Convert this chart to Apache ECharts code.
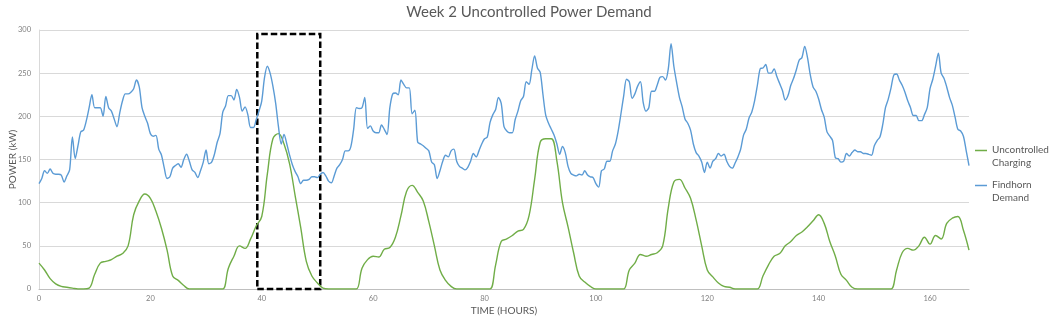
<!DOCTYPE html>
<html>
<head>
<meta charset="utf-8">
<script src="https://cdn.jsdelivr.net/npm/echarts@6/dist/echarts.min.js"></script>
<style>
html,body{margin:0;padding:0;background:#fff;}
#chart{width:1058px;height:325px;}
</style>
</head>
<body>
<div id="chart"></div>
<script>
// Uncontrolled charging, hourly values, hour 0 .. 167
const chargingStepHours = 1;
const chargingKW = [
  30,22,12,6,3,2,1,0,0,1,17,30,32,34,38,41,50,86,102,110,
  105,90,70,45,15,10,4,0,0,0,0,0,0,0,24,38,50,47,58,73,
  84,133,174,180,168,145,108,71,32,15,7,1,0,0,0,0,0,0,24,34,
  38,37,46,48,60,85,113,120,112,102,78,50,22,10,3,0,0,0,0,0,
  0,0,28,55,58,62,67,69,85,127,170,174,174,148,100,72,42,15,8,3,
  0,0,0,0,0,0,22,30,40,38,40,42,50,94,124,127,117,105,80,50,
  22,14,7,3,2,0,0,0,0,0,15,28,38,41,50,55,62,66,72,79,
  86,76,55,38,17,10,2,0,0,0,0,0,0,0,22,42,47,45,50,60,
  52,62,58,76,82,84,68,45
];
// Findhorn demand, half-hourly values, hour 0 .. 167
const demandStepHours = 0.5;
const demandKW = [
  122,128,137,134,139,134,133,133,132,124,
  131,138,176,151,166,182,184,195,210,225,
  210,210,210,200,223,210,206,197,188,204,
  218,226,226,228,232,242,234,210,200,192,
  180,177,178,162,155,140,128,130,140,143,
  145,141,150,156,148,138,135,129,137,147,
  161,145,147,156,170,180,205,212,224,224,
  219,231,222,206,211,202,187,187,196,206,
  218,245,258,250,235,215,188,168,179,168,
  155,144,136,130,122,126,126,127,130,130,
  129,133,135,131,125,123,131,140,144,150,
  160,160,165,185,210,209,210,222,186,189,
  183,181,181,190,185,179,210,226,227,225,
  242,237,233,233,203,207,170,168,166,163,
  160,147,144,128,137,148,155,153,160,162,
  148,142,140,138,141,148,157,153,160,168,
  174,176,193,202,208,222,215,188,183,181,
  181,196,206,218,223,240,237,254,270,256,
  251,225,201,192,185,178,168,156,165,158,
  142,134,132,131,133,132,137,132,130,129,
  122,118,137,139,148,148,160,168,183,203,
  224,243,240,221,226,235,240,216,206,210,
  229,229,236,245,246,242,255,284,258,239,
  222,211,197,192,184,168,158,154,147,135,
  147,140,148,151,157,154,156,148,142,140,
  146,153,162,178,185,198,205,218,236,255,
  256,260,250,250,255,246,238,230,219,224,
  236,244,254,265,268,281,268,248,234,229,
  220,208,199,182,177,172,152,151,147,148,
  157,154,158,161,159,159,157,157,156,155,
  166,172,176,190,210,220,233,248,249,242,
  236,228,218,210,201,201,195,195,202,210,
  232,243,258,273,250,244,234,222,213,199,
  185,183,177,160,143
];
const seriesNames = ['Uncontrolled Charging', 'Findhorn Demand'];
// Highlighted window (hours) and its top (kW)
const highlightHours = [39.2, 50.5];
const highlightKW = [0, 295.5];

const FONT = 'Lato';
const TXT = '#595959';
const chart = echarts.init(document.getElementById('chart'), null, {renderer: 'canvas'});
chart.setOption({
  animation: false,
  backgroundColor: '#ffffff',
  title: {
    text: 'Week 2 Uncontrolled Power Demand',
    left: 'center', top: 0,
    textStyle: {fontFamily: FONT, fontSize: 15, fontWeight: 'normal', color: TXT}
  },
  grid: {left: 39, right: 89, top: 30, bottom: 36, containLabel: false, outerBoundsMode: 'none'},
  legend: {
    orient: 'vertical', left: 975, top: 143, padding: 0,
    itemWidth: 12, itemHeight: 13.5, itemGap: 8,
    icon: 'path://M0,0H12V1.6H0Z M0,13.5H12V13.5H0Z',
    itemStyle: {borderWidth: 0},
    data: seriesNames,
    formatter: n => n.replace(' ', '\n'),
    textStyle: {fontFamily: FONT, fontSize: 10, color: TXT, lineHeight: 13.5}
  },
  xAxis: {
    type: 'value', min: 0, max: 167, interval: 20,
    name: 'TIME (HOURS)', nameLocation: 'middle', nameGap: 17,
    nameMoveOverlap: false,
    nameTextStyle: {fontFamily: FONT, fontSize: 10, color: TXT},
    axisLine: {show: true, lineStyle: {color: '#bfbfbf', width: 1}},
    axisTick: {show: false},
    axisLabel: {fontFamily: FONT, fontSize: 7.5, color: '#7f7f7f', margin: 6, showMaxLabel: false},
    splitLine: {show: false}
  },
  yAxis: {
    type: 'value', min: 0, max: 300, interval: 50,
    name: 'POWER (kW)', nameLocation: 'middle', nameGap: 21,
    nameMoveOverlap: false,
    nameTextStyle: {fontFamily: FONT, fontSize: 10, color: TXT},
    axisLine: {show: true, lineStyle: {color: '#d9d9d9', width: 1}},
    axisTick: {show: false},
    axisLabel: {fontFamily: FONT, fontSize: 7.5, color: '#7f7f7f', margin: 8},
    splitLine: {show: true, lineStyle: {color: '#d9d9d9', width: 1}}
  },
  series: [
    {
      name: seriesNames[0], type: 'line', symbol: 'none', smooth: 0.4,
      data: chargingKW.map((v, i) => [i * chargingStepHours, v]),
      lineStyle: {color: '#70AD47', width: 1.4},
      itemStyle: {color: '#70AD47'}
    },
    {
      name: seriesNames[1], type: 'line', symbol: 'none', smooth: 0.3,
      data: demandKW.map((v, i) => [i * demandStepHours, v]),
      lineStyle: {color: '#5B9BD5', width: 1.4},
      itemStyle: {color: '#5B9BD5'},
      markArea: {
        silent: true,
        label: {show: false},
        itemStyle: {color: 'rgba(0,0,0,0)', borderColor: '#000000', borderWidth: 2.5, borderType: [6.5, 3]},
        data: [[{xAxis: highlightHours[0], yAxis: highlightKW[0]}, {xAxis: highlightHours[1], yAxis: highlightKW[1]}]]
      }
    }
  ]
});
</script>
</body>
</html>
